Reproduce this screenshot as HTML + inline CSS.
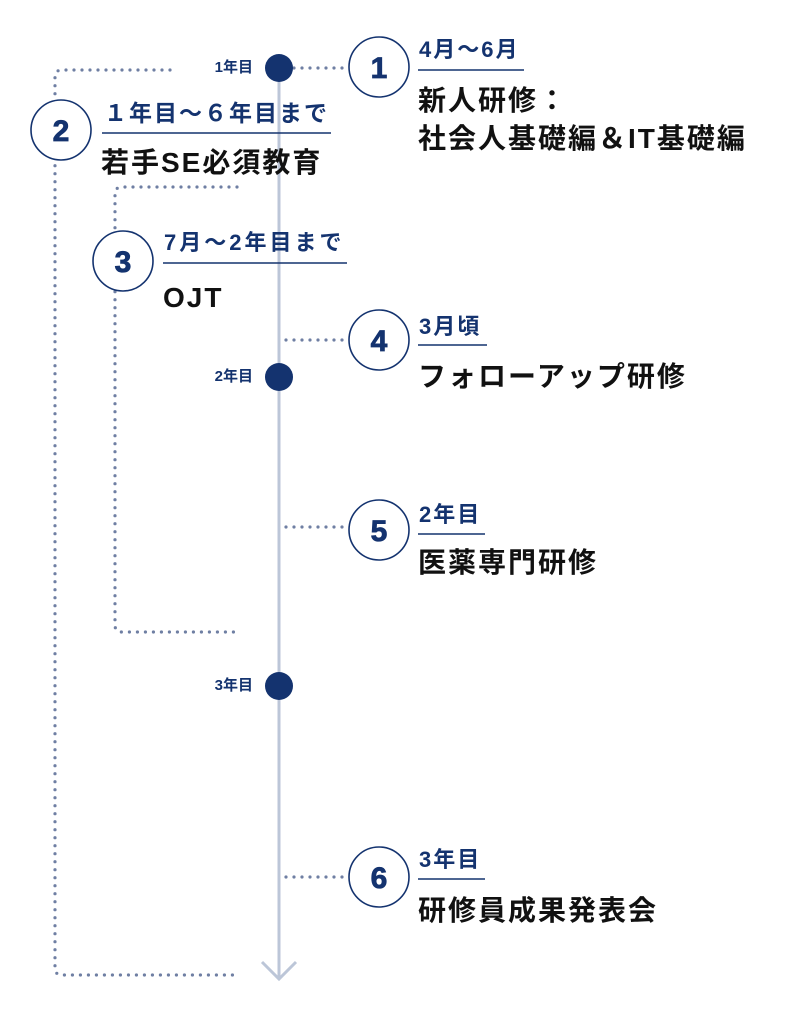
<!DOCTYPE html>
<html><head><meta charset="utf-8"><style>
body{margin:0;background:#fff;width:786px;height:1026px;position:relative;overflow:hidden;font-family:"Liberation Sans","Noto Sans CJK JP",sans-serif;font-weight:bold}
.t{position:absolute;white-space:nowrap;line-height:1}
.lb{color:#14336f;font-size:22px;letter-spacing:2px}
.ti{color:#111;font-size:28px;letter-spacing:2px}
.yr{color:#14336f;font-size:15px;text-align:right;width:64px}
</style></head><body>
<svg width="786" height="1026" style="position:absolute;left:0;top:0">
<g fill="none" stroke="#6f7fa3" stroke-width="3.2" stroke-linecap="round" stroke-dasharray="0 8">
<path d="M170 70 H62 Q55 70 55 77 V968 Q55 975 62 975 H237"/>
<path d="M237 187 H122 Q115 187 115 194 V625 Q115 632 122 632 H237"/>
<path d="M294 68 H350"/>
<path d="M286 340 H350"/>
<path d="M286 527 H350"/>
<path d="M286 877 H350"/>
</g>
<line x1="279" y1="68" x2="279" y2="978" stroke="#bcc6d8" stroke-width="3"/>
<polyline points="262,962 279,979 296,962" fill="none" stroke="#bcc6d8" stroke-width="3"/>
<g fill="#14336f"><circle cx="279" cy="68" r="14"/><circle cx="279" cy="377" r="14"/><circle cx="279" cy="686" r="14"/></g>
<g fill="#fff" stroke="#14336f" stroke-width="1.6">
<circle cx="379" cy="67" r="30"/><circle cx="61" cy="130" r="30"/><circle cx="123" cy="261" r="30"/>
<circle cx="379" cy="340" r="30"/><circle cx="379" cy="530" r="30"/><circle cx="379" cy="877" r="30"/>
</g>
<g fill="#14336f" stroke="#14336f" stroke-width="0.8" font-family="Liberation Sans,sans-serif" font-weight="bold" font-size="30" text-anchor="middle">
<text x="379" y="78">1</text><text x="61" y="141">2</text><text x="123" y="272">3</text>
<text x="379" y="351">4</text><text x="379" y="541">5</text><text x="379" y="888">6</text>
</g>
<g stroke="#14336f" stroke-width="1.6">
<line x1="418" y1="70" x2="524" y2="70"/>
<line x1="102" y1="133" x2="331" y2="133"/>
<line x1="163" y1="263" x2="347" y2="263"/>
<line x1="418" y1="345" x2="487" y2="345"/>
<line x1="418" y1="534" x2="485" y2="534"/>
<line x1="418" y1="879" x2="485" y2="879"/>
</g>
</svg>
<div class="t yr" style="left:189px;top:60px">1年目</div>
<div class="t yr" style="left:189px;top:369px">2年目</div>
<div class="t yr" style="left:189px;top:678px">3年目</div>

<div class="t lb" style="left:419px;top:39px">4月〜6月</div>
<div class="t ti" style="left:418px;top:87px">新人研修：</div>
<div class="t ti" style="left:418px;top:125px">社会人基礎編＆IT基礎編</div>

<div class="t lb" style="left:104px;top:102px;font-size:23px">１年目〜６年目まで</div>
<div class="t ti" style="left:101px;top:149px">若手SE必須教育</div>

<div class="t lb" style="left:164px;top:232px;font-size:22px;letter-spacing:3px">7月〜2年目まで</div>
<div class="t ti" style="left:163px;top:284px">OJT</div>

<div class="t lb" style="left:419px;top:316px">3月頃</div>
<div class="t ti" style="left:418px;top:363px">フォローアップ研修</div>

<div class="t lb" style="left:419px;top:504px">2年目</div>
<div class="t ti" style="left:418px;top:549px">医薬専門研修</div>

<div class="t lb" style="left:419px;top:849px">3年目</div>
<div class="t ti" style="left:418px;top:897px">研修員成果発表会</div>
</body></html>
